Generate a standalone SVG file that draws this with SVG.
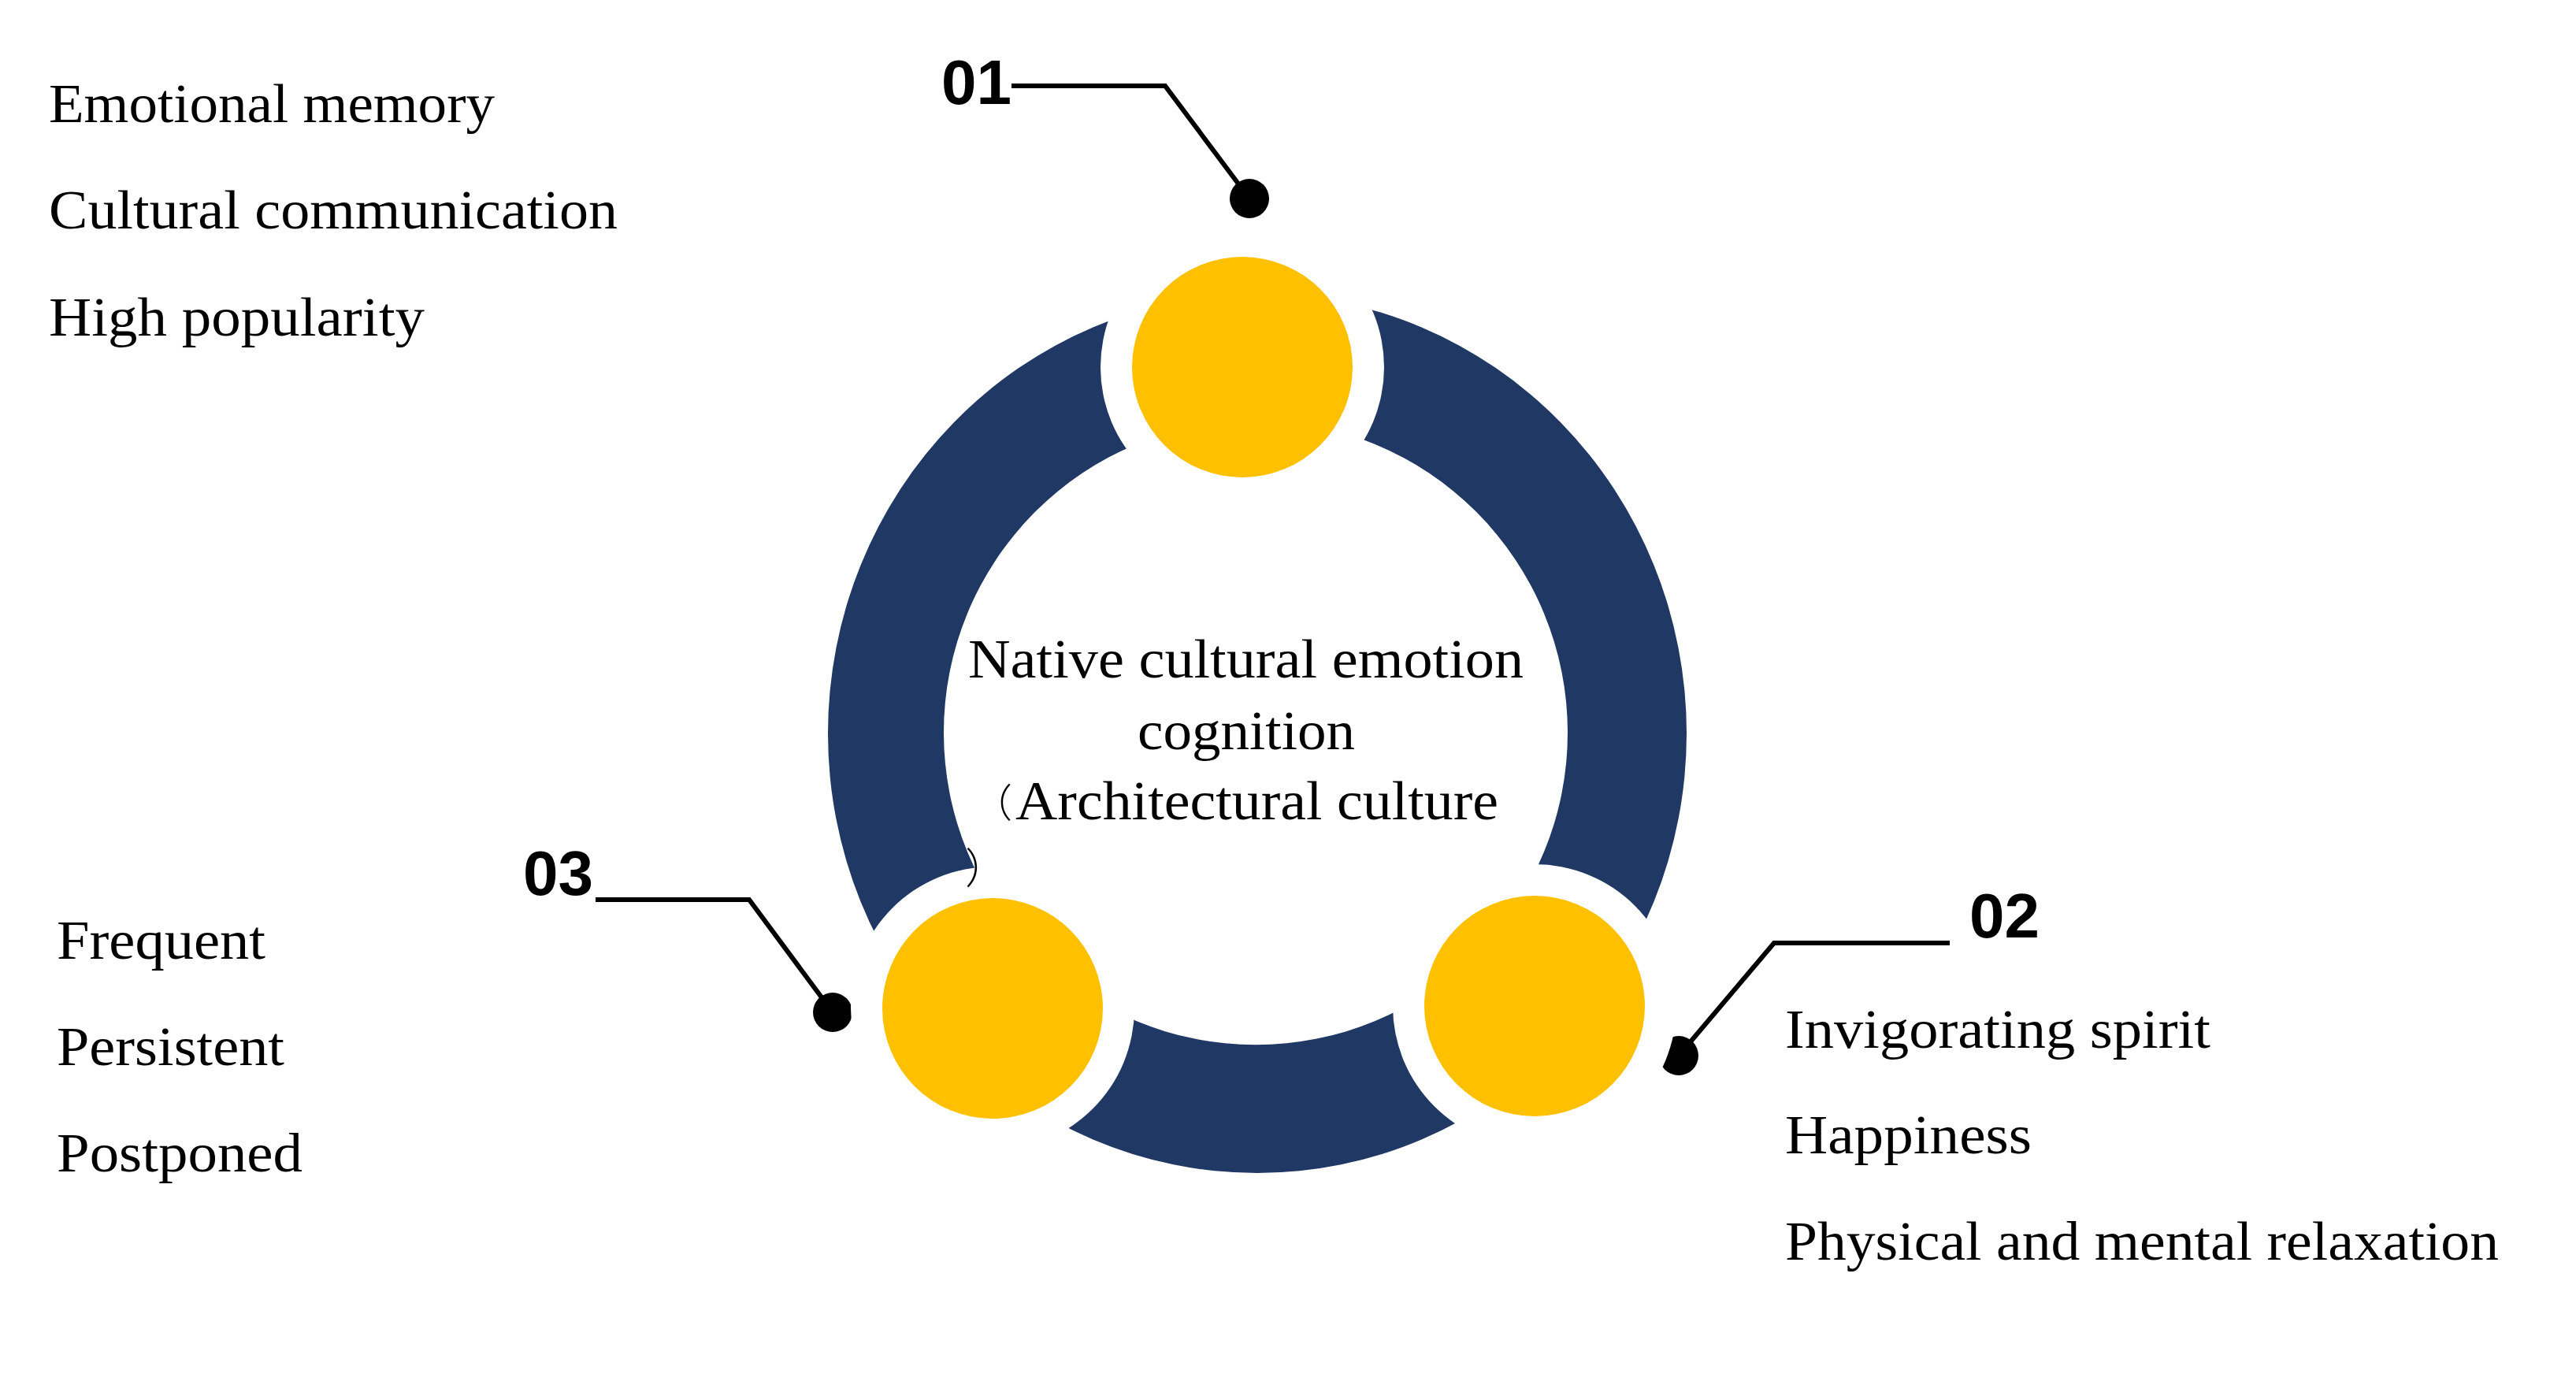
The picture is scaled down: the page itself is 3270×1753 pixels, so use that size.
<svg xmlns="http://www.w3.org/2000/svg" width="3270" height="1753" viewBox="0 0 3270 1753">
<style>
.ring{fill:#203864;fill-rule:evenodd}
.gap{fill:#ffffff}
.core{fill:#FFC000}
.t{font-family:"Liberation Serif","Times New Roman",serif;font-size:70px;fill:#000}
.num{font-family:"Liberation Sans",Arial,sans-serif;font-weight:bold;font-size:80px;fill:#000}
.par{font-family:"Noto Sans CJK SC","Noto Sans CJK JP",sans-serif;font-weight:300;fill:#000}
.lead{fill:none;stroke:#000;stroke-width:6;stroke-linejoin:miter}
.dot{fill:#000}
</style>
<rect width="3270" height="1753" fill="#ffffff"/>
<g id="ring">
<path class="ring" d="M1051 931a545 558 0 1 0 1090 0a545 558 0 1 0 -1090 0Z M1198 930a396 396 0 1 0 792 0a396 396 0 1 0 -792 0Z"/>
</g>
<g id="connectors">
<polyline class="lead" points="1284,109 1479,109 1586,252"/>
<circle class="dot" cx="1586" cy="252" r="25"/>
<polyline class="lead" points="2475,1197 2252,1197 2131,1340"/>
<circle class="dot" cx="2131" cy="1340" r="25"/>
<polyline class="lead" points="756,1142 951,1142 1057,1285"/>
<circle class="dot" cx="1057" cy="1285" r="25"/>
</g>
<g id="node-01">
<circle class="gap" cx="1577" cy="466" r="180"/>
<circle class="core" cx="1577" cy="466" r="140"/>
<text class="num" x="1195" y="132">01</text>
<text class="t" x="62" y="155" textLength="566" lengthAdjust="spacingAndGlyphs">Emotional memory</text>
<text class="t" x="62" y="290" textLength="722" lengthAdjust="spacingAndGlyphs">Cultural communication</text>
<text class="t" x="62" y="426" textLength="477" lengthAdjust="spacingAndGlyphs">High popularity</text>
</g>
<g id="node-02">
<circle class="gap" cx="1948" cy="1277" r="180"/>
<circle class="core" cx="1948" cy="1277" r="140"/>
<text class="num" x="2500" y="1190">02</text>
<text class="t" x="2266" y="1330" textLength="540" lengthAdjust="spacingAndGlyphs">Invigorating spirit</text>
<text class="t" x="2266" y="1464" textLength="313" lengthAdjust="spacingAndGlyphs">Happiness</text>
<text class="t" x="2266" y="1599" textLength="906" lengthAdjust="spacingAndGlyphs">Physical and mental relaxation</text>
</g>
<g id="node-03">
<circle class="gap" cx="1260" cy="1280" r="180"/>
<circle class="core" cx="1260" cy="1280" r="140"/>
<text class="num" x="664" y="1136">03</text>
<text class="t" x="72" y="1217" textLength="265" lengthAdjust="spacingAndGlyphs">Frequent</text>
<text class="t" x="72" y="1352" textLength="289" lengthAdjust="spacingAndGlyphs">Persistent</text>
<text class="t" x="72" y="1487" textLength="312" lengthAdjust="spacingAndGlyphs">Postponed</text>
</g>
<g id="center-label">
<text class="t" x="1229" y="860" textLength="705" lengthAdjust="spacingAndGlyphs">Native cultural emotion</text>
<text class="t" x="1444" y="951" textLength="276" lengthAdjust="spacingAndGlyphs">cognition</text>
<text class="par" x="1285" y="1037" font-size="50" text-anchor="end">（</text>
<text class="t" x="1289" y="1040" textLength="613" lengthAdjust="spacingAndGlyphs">Architectural culture</text>
<text class="par" x="1225" y="1122" font-size="53">）</text>
</g>
</svg>
